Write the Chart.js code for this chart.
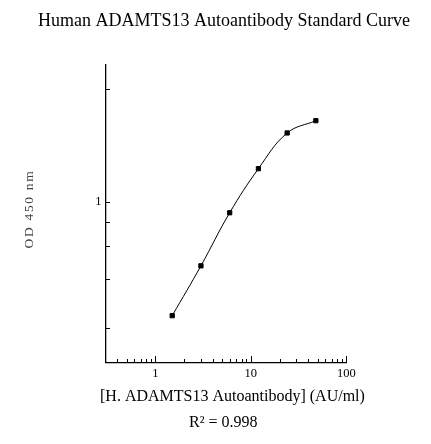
<!DOCTYPE html>
<html><head><meta charset="utf-8">
<script src="https://cdn.jsdelivr.net/npm/chart.js@4.4.1/dist/chart.umd.min.js"></script>
<style>html,body{margin:0;padding:0;background:#fff}canvas{display:block}</style>
</head><body>
<canvas id="c" width="431" height="444"></canvas>
<script>
const chartTitle = 'Human ADAMTS13 Autoantibody Standard Curve';
const xAxisTitle = '[H. ADAMTS13 Autoantibody] (AU/ml)';
const yAxisTitle = 'OD 450 nm';
const fitLabel = 'R\u00B2 = 0.998';

const concentrations = [1.5, 3, 6, 12, 24, 48];
const odValues = [0.495, 0.673, 0.933, 1.224, 1.525, 1.645];

const xMajorTicks = [1, 10, 100];
const xMajorLabels = ['1', '10', '100'];
const xMinorTicks = [0.4, 0.5, 0.6, 0.7, 0.8, 0.9, 2, 3, 4, 5, 6, 7, 8, 9, 20, 30, 40, 50, 60, 70, 80, 90];
const yLabelTicks = [1];
const yLabels = ['1'];
const yMarkTicks = [2, 1, 0.884, 0.758, 0.62, 0.459];
const xRange = [0.3, 100];
const yRange = [0.371, 2.328];

Chart.defaults.font.family = '"Liberation Serif", serif';

const decor = {
  id: 'decor',
  afterDraw(chart) {
    const {ctx, chartArea: a} = chart;
    const x = chart.scales.x, y = chart.scales.y;
    ctx.save();
    ctx.strokeStyle = '#000';
    ctx.lineWidth = 1;
    ctx.beginPath();
    xMajorTicks.concat(xMinorTicks).forEach(v => {
      const px = Math.round(x.getPixelForValue(v)) + 0.5;
      const len = xMajorTicks.includes(v) ? 6.5 : 3.5;
      ctx.moveTo(px, a.bottom);
      ctx.lineTo(px, a.bottom - len);
    });
    yMarkTicks.forEach(v => {
      const py = Math.round(y.getPixelForValue(v)) + 0.5;
      ctx.moveTo(a.left, py);
      ctx.lineTo(a.left + 4.5, py);
    });
    ctx.stroke();

    ctx.fillStyle = '#000';
    ctx.textBaseline = 'alphabetic';
    ctx.textAlign = 'center';
    ctx.font = '18px "Liberation Serif"';
    ctx.fillText(chartTitle, 224, 25.7);
    ctx.textAlign = 'left';
    ctx.font = '16px "Liberation Serif"';
    ctx.fillText(xAxisTitle, 100, 401);
    ctx.fillText(fitLabel, 189, 427);

    ctx.translate(33, 209);
    ctx.rotate(-Math.PI / 2);
    ctx.textAlign = 'center';
    try { ctx.letterSpacing = '1.7px'; } catch (e) {}
    ctx.font = '13.5px "Liberation Serif"';
    ctx.fillStyle = '#444';
    ctx.fillText(yAxisTitle, 0, 0);
    ctx.restore();
  }
};

new Chart(document.getElementById('c'), {
  type: 'scatter',
  data: {
    datasets: [{
      data: concentrations.map((c, i) => ({x: c, y: odValues[i]})),
      showLine: true,
      borderColor: '#000',
      borderWidth: 1,
      tension: 0.4,
      fill: false,
      pointStyle: 'rect',
      pointRadius: 3,
      pointBorderWidth: 1,
      pointBackgroundColor: '#000',
      pointBorderColor: '#000'
    }]
  },
  options: {
    responsive: false,
    animation: false,
    layout: {padding: {left: 0, right: 84.7, top: 64.3, bottom: 0}},
    plugins: {
      legend: {display: false},
      tooltip: {enabled: false},
      title: {display: false}
    },
    scales: {
      x: {
        type: 'logarithmic',
        position: 'bottom',
        min: xRange[0],
        max: xRange[1],
        grid: {display: false, drawTicks: false},
        border: {display: true, color: '#000', width: 1.3},
        afterBuildTicks: s => { s.ticks = xMajorTicks.map(v => ({value: v})); },
        afterFit: s => { s.height = 81.5; },
        ticks: {
          autoSkip: false, maxRotation: 0, padding: 3.5, color: '#000',
          font: {size: 12.5},
          callback: v => { const i = xMajorTicks.indexOf(v); return i >= 0 ? xMajorLabels[i] : ''; }
        }
      },
      y: {
        type: 'logarithmic',
        position: 'left',
        min: yRange[0],
        max: yRange[1],
        grid: {display: false, drawTicks: false},
        border: {display: true, color: '#000', width: 1.3},
        afterBuildTicks: s => { s.ticks = yLabelTicks.map(v => ({value: v})); },
        afterFit: s => { s.width = 105.5; },
        ticks: {
          autoSkip: false, padding: 4, color: '#000',
          font: {size: 12.5},
          callback: v => { const i = yLabelTicks.indexOf(v); return i >= 0 ? yLabels[i] : ''; }
        }
      }
    }
  },
  plugins: [decor]
});
</script>
</body></html>
